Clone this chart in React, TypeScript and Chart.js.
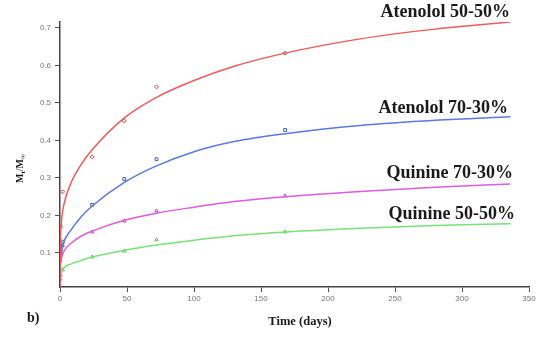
import React, { useEffect, useRef } from "react";
import { Chart, registerables } from "chart.js";

Chart.register(...registerables);

// Measured release points (days, Mt/M∞)
const pointDays = [0.25, 0.5, 2, 24, 48, 72, 168];
const aten5050Points = [0.12, 0.17, 0.263, 0.356, 0.452, 0.543, 0.633];
const aten7030Points = [0.1, 0.11, 0.13, 0.228, 0.297, 0.35, 0.428];
const quin7030Points = [0.08, 0.1, 0.12, 0.156, 0.185, 0.212, 0.252];
const quin5050Points = [0.03, 0.04, 0.055, 0.089, 0.105, 0.135, 0.156];

// Fitted curves (days, Mt/M∞)
const curveDays = [0, 0.2, 1, 3, 8, 16, 24, 48, 72, 100, 130, 168, 224, 280, 336];
const aten5050Curve = [0.01, 0.11, 0.18, 0.23, 0.285, 0.337, 0.375, 0.46, 0.515, 0.56, 0.598, 0.633, 0.671, 0.697, 0.716];
const aten7030Curve = [0.01, 0.07, 0.1, 0.13, 0.16, 0.197, 0.225, 0.288, 0.332, 0.37, 0.397, 0.418, 0.44, 0.454, 0.463];
const quin7030Curve = [0.01, 0.06, 0.085, 0.105, 0.125, 0.145, 0.158, 0.187, 0.206, 0.222, 0.237, 0.25, 0.264, 0.275, 0.284];
const quin5050Curve = [0.01, 0.03, 0.045, 0.06, 0.07, 0.08, 0.089, 0.107, 0.121, 0.134, 0.146, 0.156, 0.166, 0.173, 0.178];

const seriesNames = ["Atenolol 50-50%", "Atenolol 70-30%", "Quinine 70-30%", "Quinine 50-50%"];
const xTicks = [0, 50, 100, 150, 200, 250, 300, 350];
const yTicks = [0.1, 0.2, 0.3, 0.4, 0.5, 0.6, 0.7];

const colors = ["rgb(240,90,90)", "rgb(90,120,230)", "rgb(225,90,225)", "rgb(120,225,120)"];
const markerColors = ["rgb(200,70,70)", "rgb(70,95,190)", "rgb(190,70,190)", "rgb(90,190,90)"];

const toXY = (xs: number[], ys: number[]) => xs.map((x, i) => ({ x, y: ys[i] }));

export default function App() {
  const ref = useRef<HTMLCanvasElement | null>(null);

  useEffect(() => {
    if (!ref.current) return;
    const curves = [aten5050Curve, aten7030Curve, quin7030Curve, quin5050Curve];
    const points = [aten5050Points, aten7030Points, quin7030Points, quin5050Points];
    const pStyles = ["rectRot", "rect", "triangle", "triangle"];

    const datasets: any[] = [];
    curves.forEach((c, i) => {
      datasets.push({
        type: "line",
        label: seriesNames[i],
        data: toXY(curveDays, c),
        borderColor: colors[i],
        borderWidth: 1.5,
        pointRadius: 0,
        cubicInterpolationMode: "monotone",
        fill: false,
      });
    });
    points.forEach((p, i) => {
      datasets.push({
        type: "scatter",
        label: seriesNames[i] + " data",
        data: toXY(pointDays, p),
        borderColor: markerColors[i],
        backgroundColor: "rgba(0,0,0,0)",
        borderWidth: 1,
        pointRadius: 2,
        pointStyle: pStyles[i],
        showLine: false,
      });
    });

    const labelPos = [
      { x: 510, y: 17 },
      { x: 508, y: 113 },
      { x: 513, y: 178 },
      { x: 515, y: 219 },
    ];

    const textPlugin = {
      id: "texts",
      afterDraw(chart: any) {
        const ctx = chart.ctx;
        ctx.save();
        ctx.fillStyle = "#1a1a1a";
        ctx.font = "bold 18px 'Liberation Serif', serif";
        ctx.textAlign = "right";
        ctx.textBaseline = "alphabetic";
        seriesNames.forEach((n, i) => ctx.fillText(n, labelPos[i].x, labelPos[i].y));

        ctx.textAlign = "center";
        ctx.textBaseline = "middle";
        ctx.font = "bold 12.5px 'Liberation Serif', serif";
        ctx.fillText("Time (days)", 300, 322);

        ctx.textAlign = "left";
        ctx.font = "bold 14px 'Liberation Serif', serif";
        ctx.fillText("b)", 27, 318);

        // y axis title Mt/M∞
        ctx.translate(20, 169);
        ctx.rotate(-Math.PI / 2);
        ctx.textAlign = "left";
        ctx.textBaseline = "alphabetic";
        ctx.font = "bold 10px 'Liberation Serif', serif";
        let x = -14;
        ctx.fillText("M", x, 3);
        x += ctx.measureText("M").width;
        ctx.font = "bold 7px 'Liberation Serif', serif";
        ctx.fillText("t", x, 5);
        x += ctx.measureText("t").width;
        ctx.font = "bold 10px 'Liberation Serif', serif";
        ctx.fillText("/M", x, 3);
        x += ctx.measureText("/M").width;
        ctx.font = "bold 7px 'Liberation Serif', serif";
        ctx.fillText("\u221e", x, 5);
        ctx.restore();
      },
    };

    const chart = new Chart(ref.current, {
      type: "line",
      data: { datasets },
      options: {
        responsive: false,
        animation: false,
        layout: { padding: { left: 0, right: 10, top: 22, bottom: 0 } },
        plugins: { legend: { display: false }, tooltip: { enabled: false } },
        scales: {
          x: {
            type: "linear",
            min: 0,
            max: 350,
            afterFit: (s: any) => { s.height = 51; },
            afterBuildTicks: (s: any) => { s.ticks = xTicks.map((v) => ({ value: v })); },
            border: { display: true, color: "#444", width: 1.5 },
            grid: { drawOnChartArea: false, tickLength: 5, color: "#555", lineWidth: 1 },
            ticks: { color: "#777", font: { size: 8, family: "'Liberation Sans', sans-serif" }, padding: 2, maxRotation: 0 },
          },
          y: {
            type: "linear",
            min: 0.009,
            max: 0.716,
            afterFit: (s: any) => { s.width = 60; },
            afterBuildTicks: (s: any) => { s.ticks = yTicks.map((v) => ({ value: v })); },
            border: { display: true, color: "#444", width: 1.5 },
            grid: { drawOnChartArea: false, tickLength: 5, color: "#555", lineWidth: 1 },
            ticks: {
              color: "#777",
              font: { size: 8, family: "'Liberation Sans', sans-serif" },
              padding: 4,
              callback: (v: any) => Number(v).toFixed(1),
            },
          },
        },
      },
      plugins: [textPlugin],
    } as any);

    return () => chart.destroy();
  }, []);

  return (
    <div style={{ position: "absolute", left: 0, top: 0, width: 539, height: 338, background: "#fff" }}>
      <canvas ref={ref} width={539} height={338} />
    </div>
  );
}
